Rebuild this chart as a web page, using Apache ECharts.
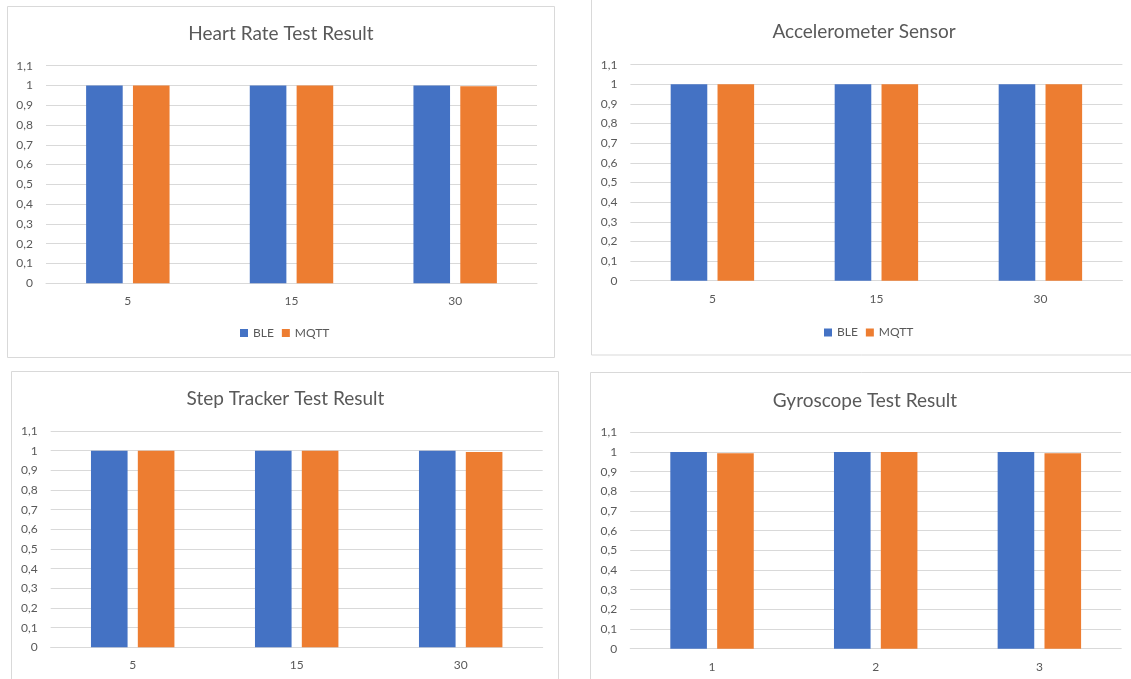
<!DOCTYPE html>
<html>
<head>
<meta charset="utf-8">
<script src="https://cdn.jsdelivr.net/npm/echarts@6/dist/echarts.min.js"></script>
<style>
html,body{margin:0;padding:0;background:#fff;}
#c{width:1131px;height:679px;}
</style>
</head>
<body>
<div id="c"></div>
<script>
// ---- data ----
const titles = ['Heart Rate Test Result', 'Accelerometer Sensor', 'Step Tracker Test Result', 'Gyroscope Test Result'];
const seriesNames = ['BLE', 'MQTT'];
const categoriesTime = ['5', '15', '30'];
const categoriesGyro = ['1', '2', '3'];
const heartBLE = [1, 1, 1];
const heartMQTT = [1, 1, 0.996];
const accelBLE = [1, 1, 1];
const accelMQTT = [1, 1, 1];
const stepBLE = [1, 1, 1];
const stepMQTT = [1, 1, 0.993];
const gyroBLE = [1, 1, 1];
const gyroMQTT = [0.994, 1, 0.994];
const yTickLabels = ['0', '0,1', '0,2', '0,3', '0,4', '0,5', '0,6', '0,7', '0,8', '0,9', '1', '1,1'];

// ---- layout / style ----
const FONT = 'Lato';
const TXT = '#595959';
const GRIDC = '#d9d9d9';
const BLUE = '#4472C4';
const ORANGE = '#ED7D31';

const panels = [
  { title: titles[0], cats: categoriesTime, a: heartBLE, b: heartMQTT, grid: { left: 46, top: 65.7, width: 491, height: 217.6 }, titleX: 281, titleY: 24.5 },
  { title: titles[1], cats: categoriesTime, a: accelBLE, b: accelMQTT, grid: { left: 630.4, top: 64.7, width: 492, height: 216 }, titleX: 864, titleY: 22.8 },
  { title: titles[2], cats: categoriesTime, a: stepBLE, b: stepMQTT, grid: { left: 50.7, top: 431, width: 492, height: 216.3 }, titleX: 285.5, titleY: 389 },
  { title: titles[3], cats: categoriesGyro, a: gyroBLE, b: gyroMQTT, grid: { left: 630.2, top: 432.3, width: 491, height: 216.4 }, titleX: 865, titleY: 391 }
];

const option = {
  animation: false,
  backgroundColor: '#fff',
  textStyle: { fontFamily: FONT },
  title: panels.map(p => ({
    text: p.title, left: p.titleX, top: p.titleY, textAlign: 'center', padding: 0,
    textStyle: { fontFamily: FONT, fontSize: 19, fontWeight: 'normal', color: TXT }
  })),
  legend: [
    { data: seriesNames, left: 240, top: 327, itemWidth: 8, itemHeight: 8, itemGap: 8, icon: 'rect', padding: 0,
      textStyle: { fontFamily: FONT, fontSize: 12, color: TXT } },
    { data: seriesNames, left: 824, top: 326.5, itemWidth: 8, itemHeight: 8, itemGap: 8, icon: 'rect', padding: 0,
      textStyle: { fontFamily: FONT, fontSize: 12, color: TXT } }
  ],
  grid: panels.map(p => Object.assign({ containLabel: false }, p.grid)),
  xAxis: panels.map((p, i) => ({
    type: 'category', gridIndex: i, data: p.cats,
    axisLine: { lineStyle: { color: GRIDC, width: 1 } },
    axisTick: { show: false },
    axisLabel: { color: TXT, fontSize: 12, fontFamily: FONT, margin: 12 }
  })),
  yAxis: panels.map((p, i) => ({
    type: 'value', gridIndex: i, min: 0, max: 1.1, interval: 0.1,
    axisLine: { show: false }, axisTick: { show: false },
    splitLine: { lineStyle: { color: GRIDC, width: 1 } },
    axisLabel: { color: TXT, fontSize: 12, fontFamily: FONT, margin: 13,
      formatter: v => yTickLabels[Math.round(v * 10)] }
  })),
  series: []
};

panels.forEach((p, i) => {
  option.series.push({
    name: seriesNames[0], type: 'bar', xAxisIndex: i, yAxisIndex: i, data: p.a,
    barWidth: 36.6, barGap: '28%', itemStyle: { color: BLUE }
  });
  option.series.push({
    name: seriesNames[1], type: 'bar', xAxisIndex: i, yAxisIndex: i, data: p.b,
    barWidth: 36.6, barGap: '28%', itemStyle: { color: ORANGE }
  });
});

// panel frames
option.graphic = [
  { type: 'rect', shape: { x: 7.5, y: 6.5, width: 547, height: 351 }, style: { fill: null, stroke: GRIDC, lineWidth: 1 }, silent: true, z: -1 },
  { type: 'rect', shape: { x: 591.5, y: -5, width: 600, height: 360 }, style: { fill: null, stroke: GRIDC, lineWidth: 1 }, silent: true, z: -1 },
  { type: 'rect', shape: { x: 11.5, y: 371.5, width: 547, height: 400 }, style: { fill: null, stroke: GRIDC, lineWidth: 1 }, silent: true, z: -1 },
  { type: 'rect', shape: { x: 590.5, y: 372.5, width: 600, height: 400 }, style: { fill: null, stroke: GRIDC, lineWidth: 1 }, silent: true, z: -1 }
];

const chart = echarts.init(document.getElementById('c'), null, { renderer: 'canvas' });
chart.setOption(option);
</script>
</body>
</html>
